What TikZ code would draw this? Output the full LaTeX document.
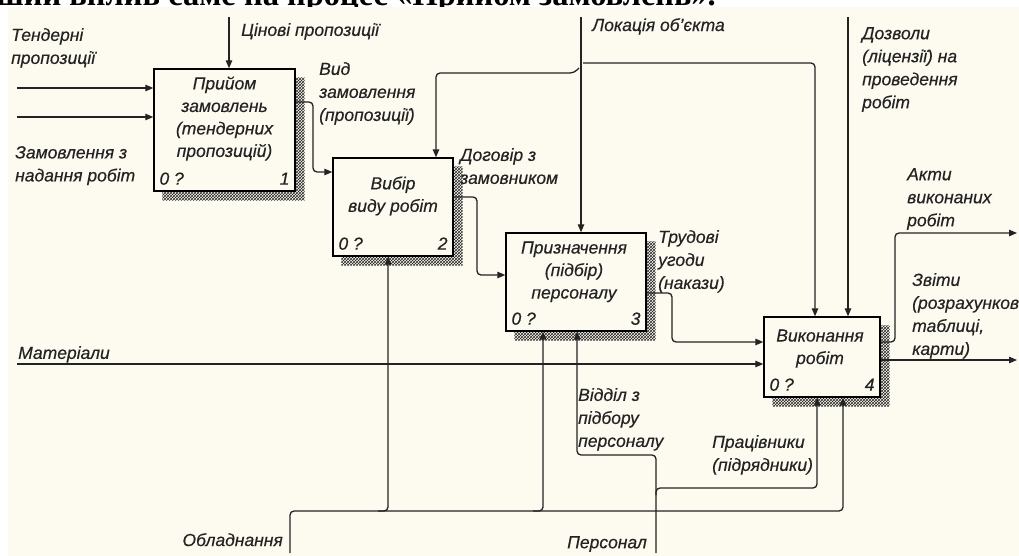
\documentclass[tikz,border=0pt]{standalone}
\usepackage{fontspec}
\setmainfont{Liberation Serif}
\newfontfamily\lsans[FakeBold=0.4]{Liberation Sans}
\usetikzlibrary{arrows.meta,patterns,calc,backgrounds}
\definecolor{cream}{RGB}{253,250,240}
\definecolor{ink}{RGB}{35,35,35}
\begin{document}
\begin{tikzpicture}[x=1pt,y=-1pt,
  box/.style={draw=black, line width=1.4pt, fill=cream, inner sep=0pt},
  shadowfill/.style={pattern=crosshatch, pattern color=black!85},
  arr/.style={draw=ink, line width=1.3pt, rounded corners=4pt, -{Triangle[length=8pt,width=6.5pt]}},
  lbl/.style={font=\lsans\itshape\fontsize{17.5}{23}\selectfont, text=ink, inner sep=0pt, align=left, anchor=north west},
  ttl/.style={font=\lsans\itshape\fontsize{17.5}{22.5}\selectfont, text=ink, inner sep=0pt, align=center, anchor=north},
  tag/.style={font=\lsans\itshape\fontsize{17.5}{20}\selectfont, text=ink, inner sep=0pt}
]
\useasboundingbox (0,0) rectangle (1019,556);

% boxes
\node[box, minimum width=141pt, minimum height=122pt] (b1) at (224.5,130) {};
\node[box, minimum width=120pt, minimum height=98pt] (b2) at (393,207) {};
\node[box, minimum width=140pt, minimum height=98pt] (b3) at (576,282) {};
\node[box, minimum width=116pt, minimum height=80pt] (b4) at (822,357) {};

\begin{scope}[on background layer]
  \fill[white] (0,0) rectangle (1019,556);
  \fill[cream] (8,7) rectangle (1019,556);
  \foreach \b in {b1,b2,b3,b4}{
    \fill[shadowfill] ($(\b.north east)+(0,9)$) -- ($(\b.north east)+(9,9)$) -- ($(\b.south east)+(9,9)$)
      -- ($(\b.south west)+(9,9)$) -- ($(\b.south west)+(9,0)$) -- (\b.south east) -- cycle;
  }
\end{scope}

% clipped caption remnant at the top edge
\begin{scope}
  \clip (0,0) rectangle (1019,6.5);
  \node[inner sep=0pt, anchor=south east, font=\bfseries\fontsize{32.5}{32.5}\selectfont,
        text depth=0pt] (toptext) at (716,6) {найбільший вплив саме на процес «Прийом замовлень».};
\end{scope}

% box titles
\node[ttl] (b1t) at ($(b1.north)+(0,8)$) {Прийом\\замовлень\\(тендерних\\пропозицій)};
\node[ttl] (b2t) at ($(b2.north)+(0,19)$) {Вибір\\виду робіт};
\node[ttl] (b3t) at ($(b3.north)+(-2,9)$) {Призначення\\(підбір)\\персоналу};
\node[ttl] (b4t) at ($(b4.north)+(-2,13)$) {Виконання\\робіт};

% box tags
\node[tag, anchor=base west] (b1a) at ($(b1.south west)+(6,-7)$) {0 ?};
\node[tag, anchor=base east] (b1n) at ($(b1.south east)+(-6,-7)$) {1};
\node[tag, anchor=base west] (b2a) at ($(b2.south west)+(6,-7)$) {0 ?};
\node[tag, anchor=base east] (b2n) at ($(b2.south east)+(-6,-7)$) {2};
\node[tag, anchor=base west] (b3a) at ($(b3.south west)+(6,-7)$) {0 ?};
\node[tag, anchor=base east] (b3n) at ($(b3.south east)+(-6,-7)$) {3};
\node[tag, anchor=base west] (b4a) at ($(b4.south west)+(6,-7)$) {0 ?};
\node[tag, anchor=base east] (b4n) at ($(b4.south east)+(-6,-7)$) {4};

% inputs to box 1
\coordinate (in1) at (17,88);
\coordinate (in2) at (17,117);
\draw[arr] (in1) -- (in1 -| b1.west);
\draw[arr] (in2) -- (in2 -| b1.west);
% control to box 1
\coordinate (c1) at (229,17);
\draw[arr] (c1) -- (c1 |- b1.north);
% box 1 -> box 2
\draw[arr] (b1.east |- 0,102) -- (313,102) -- (313,172) -- (b2.west |- 0,172);
% box 2 -> box 3
\draw[arr] (b2.east |- 0,197) -- (477,197) -- (477,275) -- (b3.west |- 0,275);
% box 3 -> box 4
\draw[arr] (b3.east |- 0,293) -- (672,293) -- (672,342) -- (b4.west |- 0,342);
% materials
\coordinate (mat) at (17,364);
\draw[arr] (mat) -- (mat -| b4.west);
% location
\coordinate (loc) at (581,17);
\draw[arr] (loc) -- (loc |- b3.north);
\draw[arr] (583,63) -- (815,63) -- (b4.north -| 815,0);
\draw[arr] (579,68) -- (574,73) -- (436,73) -- (b2.north -| 436,0);
% permits
\coordinate (perm) at (848,17);
\draw[arr] (perm) -- (perm |- b4.north);
% outputs
\coordinate (o1) at (1017,233);
\coordinate (o2) at (1017,360);
\draw[arr] (b4.east |- 0,342) -- (895,342) -- (895,233) -- (o1);
\draw[arr] (b4.east |- o2) -- (o2);
% mechanisms
\coordinate (eq) at (290,553);
\draw[arr] (eq) -- (290,511) -- (843,511) -- (b4.south -| 843,0);
\draw[arr] (378,511) -- (388,511) -- (b2.south -| 388,0);
\draw[arr] (533,511) -- (543,511) -- (b3.south -| 543,0);
\coordinate (pers) at (656,553);
\draw[arr] (pers) -- (656,455) -- (577,455) -- (b3.south -| 577,0);
\draw[arr] (656,495) -- (656,488) -- (817,488) -- (b4.south -| 817,0);

% labels
\node[lbl] (l1) at (11,28) {Тендерні\\пропозиції};
\node[lbl] (l2) at (15,146) {Замовлення з\\надання робіт};
\node[lbl] (l3) at (241,23) {Цінові пропозиції};
\node[lbl] (l4) at (319,62) {Вид\\замовлення\\(пропозиції)};
\node[lbl] (l5) at (460,148) {Договір з\\замовником};
\node[lbl] (l6) at (658,230) {Трудові\\угоди\\(накази)};
\node[lbl] (l7) at (592,18) {Локація об’єкта};
\node[lbl] (l8) at (862,27) {Дозволи\\(ліцензії) на\\проведення\\робіт};
\node[lbl] (l9) at (907,168) {Акти\\виконаних\\робіт};
\node[lbl] (l10) at (912,273) {Звіти\\(розрахункові\\таблиці,\\карти)};
\node[lbl] (l11) at (18,346) {Матеріали};
\node[lbl, anchor=north east] (l12) at (283,533) {Обладнання};
\node[lbl] (l13) at (567,536) {Персонал};
\node[lbl] (l14) at (578,388) {Відділ з\\підбору\\персоналу};
\node[lbl] (l15) at (712,435) {Працівники\\(підрядники)};
\end{tikzpicture}
\end{document}
